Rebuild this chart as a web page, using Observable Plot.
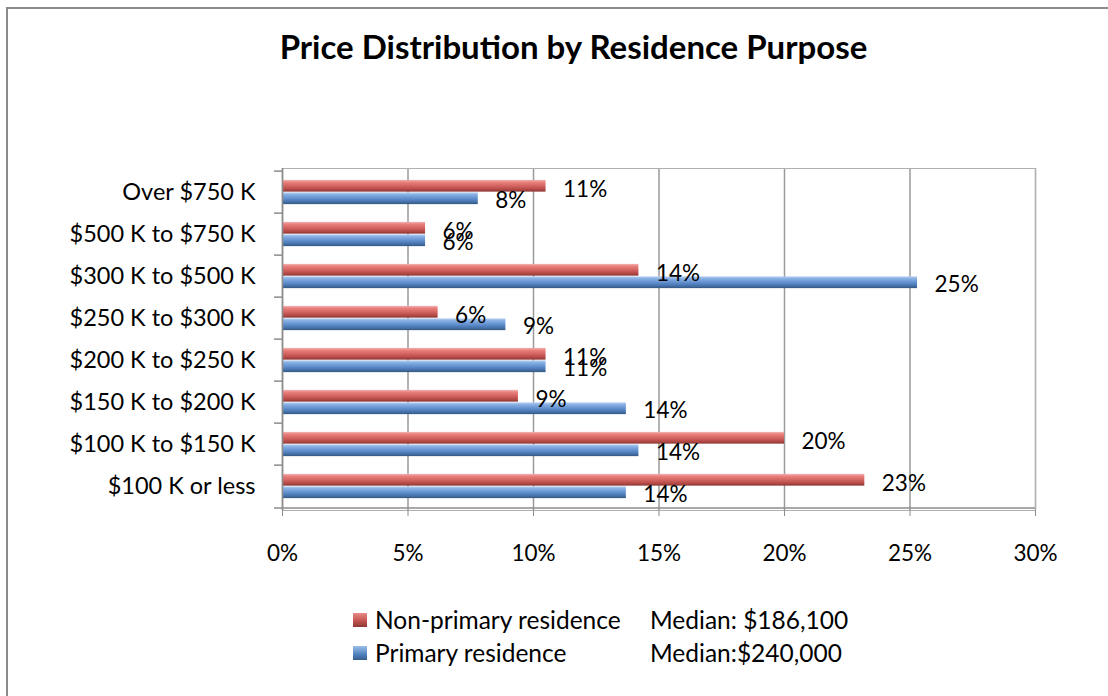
<!DOCTYPE html>
<html><head><meta charset="utf-8">
<script src="https://cdn.jsdelivr.net/npm/d3@7"></script>
<script src="https://cdn.jsdelivr.net/npm/@observablehq/plot@0.6"></script>
<style>
body{margin:0;background:#fff;font-family:Lato,"Open Sans",sans-serif;color:#000;}
#wrap{position:relative;width:1108px;height:696px;overflow:hidden;background:#fff;}
#border{position:absolute;left:6px;top:7px;width:1200px;height:800px;border-left:2px solid #8c8c8c;border-top:2px solid #8c8c8c;}
#title{position:absolute;left:0;width:1147px;top:30px;text-align:center;font-weight:bold;font-size:33px;line-height:33px;}
#chart{position:absolute;left:0;top:0;}
.leg{position:absolute;left:353px;font-size:24.5px;line-height:24px;display:flex;align-items:center;white-space:nowrap;}
.sw{width:14px;height:14px;margin-right:8px;box-sizing:border-box;}
.lab{width:275px;}
</style></head>
<body>
<div id="wrap">
  <div id="border"></div>
  <div id="title">Price Distribution by Residence Purpose</div>
  <div id="chart"></div>
  <div id="legend"></div>
</div>
<script>
// ---- data (percent of sales) ----
const categories = ["$100 K or less", "$100 K to $150 K", "$150 K to $200 K", "$200 K to $250 K",
                    "$250 K to $300 K", "$300 K to $500 K", "$500 K to $750 K", "Over $750 K"];
const nonPrimary = [23.2, 20.0, 9.4, 10.5, 6.2, 14.2, 5.7, 10.5];
const primary    = [13.7, 14.2, 13.7, 10.5, 8.9, 25.3, 5.7, 7.8];
const seriesNames = ["Non-primary residence", "Primary residence"];
const medians = ["Median: $186,100", "Median:$240,000"];
const xTicks = [0, 5, 10, 15, 20, 25, 30];

const nonData = categories.map((c, i) => ({cat: c, value: nonPrimary[i]}));
const primData = categories.map((c, i) => ({cat: c, value: primary[i]}));

const W = 1108, H = 580, mL = 282, mR = 73, mT = 168, mB = 70;
const bw = (H - mT - mB) / categories.length;
const barH = 12.5;

const chart = Plot.plot({
  width: W, height: H,
  marginLeft: mL, marginRight: mR, marginTop: mT, marginBottom: mB,
  style: {fontFamily: "Lato, sans-serif", color: "#000", background: "transparent"},
  x: {domain: [0, 30]},
  y: {domain: categories.slice().reverse(), padding: 0},
  marks: [
    Plot.gridX(xTicks, {stroke: "#9a9a9a", strokeOpacity: 1, strokeWidth: 1.5}),
    Plot.frame({stroke: "#b0b0b0", strokeWidth: 1}),
    Plot.barX(nonData, {x: "value", y: "cat", fill: "url(#gRed)", insetTop: bw / 2 - barH, insetBottom: bw / 2}),
    Plot.barX(primData, {x: "value", y: "cat", fill: "url(#gBlue)", insetTop: bw / 2, insetBottom: bw / 2 - barH}),
    Plot.text(nonData, {x: "value", y: "cat", text: d => Math.round(d.value) + "%", textAnchor: "start", dx: 17, dy: -3, fontSize: 22.5, fill: "#000"}),
    Plot.text(primData, {x: "value", y: "cat", text: d => Math.round(d.value) + "%", textAnchor: "start", dx: 17, dy: 8, fontSize: 22.5, fill: "#000"}),
    Plot.ruleX([0], {stroke: "#8c8c8c", strokeWidth: 1.5}),
    Plot.ruleY(categories, {y: d => d, x1: 0, x2: 0, insetLeft: -8, dy: -bw / 2, stroke: "#8c8c8c", strokeWidth: 1.5}),
    Plot.ruleY([categories[0]], {y: d => d, x1: 0, x2: 30, insetLeft: -8, dy: bw / 2, stroke: "#8c8c8c", strokeWidth: 1.5}),
    Plot.axisX(xTicks, {tickFormat: d => d + "%", tickSize: 6, tickPadding: 29, fontSize: 22.5, stroke: "#8c8c8c", label: null}),
    Plot.axisY({tickSize: 0, tickPadding: 27, fontSize: 23.5, label: null})
  ]
});

// gradient definitions for the bevelled bars
const svg = d3.select(chart);
const defs = svg.insert("defs", ":first-child");
function grad(id, stops) {
  const g = defs.append("linearGradient").attr("id", id).attr("x1", 0).attr("y1", 0).attr("x2", 0).attr("y2", 1);
  stops.forEach(([o, c]) => g.append("stop").attr("offset", o).attr("stop-color", c));
}
grad("gRed", [[0, "#f2b3b1"], [0.2, "#e8807d"], [0.55, "#d0605d"], [0.8, "#b44a47"], [1, "#8a3532"]]);
grad("gBlue", [[0, "#b9d1f0"], [0.2, "#86aee3"], [0.55, "#5e8ccb"], [0.8, "#4672aa"], [1, "#345782"]]);
document.getElementById("chart").appendChild(chart);

// legend
const legend = document.getElementById("legend");
const swatches = ["linear-gradient(#e88c89, #c0504d 60%, #8c3836)", "linear-gradient(#9dbde8, #4f81bd 60%, #375c8a)"];
const tops = [608, 641];
seriesNames.forEach((s, i) => {
  const row = document.createElement("div");
  row.className = "leg";
  row.style.top = tops[i] + "px";
  row.innerHTML = `<div class="sw" style="background:${swatches[i]}"></div><div class="lab">${s}</div><div>${medians[i]}</div>`;
  legend.appendChild(row);
});
</script>
</body></html>
